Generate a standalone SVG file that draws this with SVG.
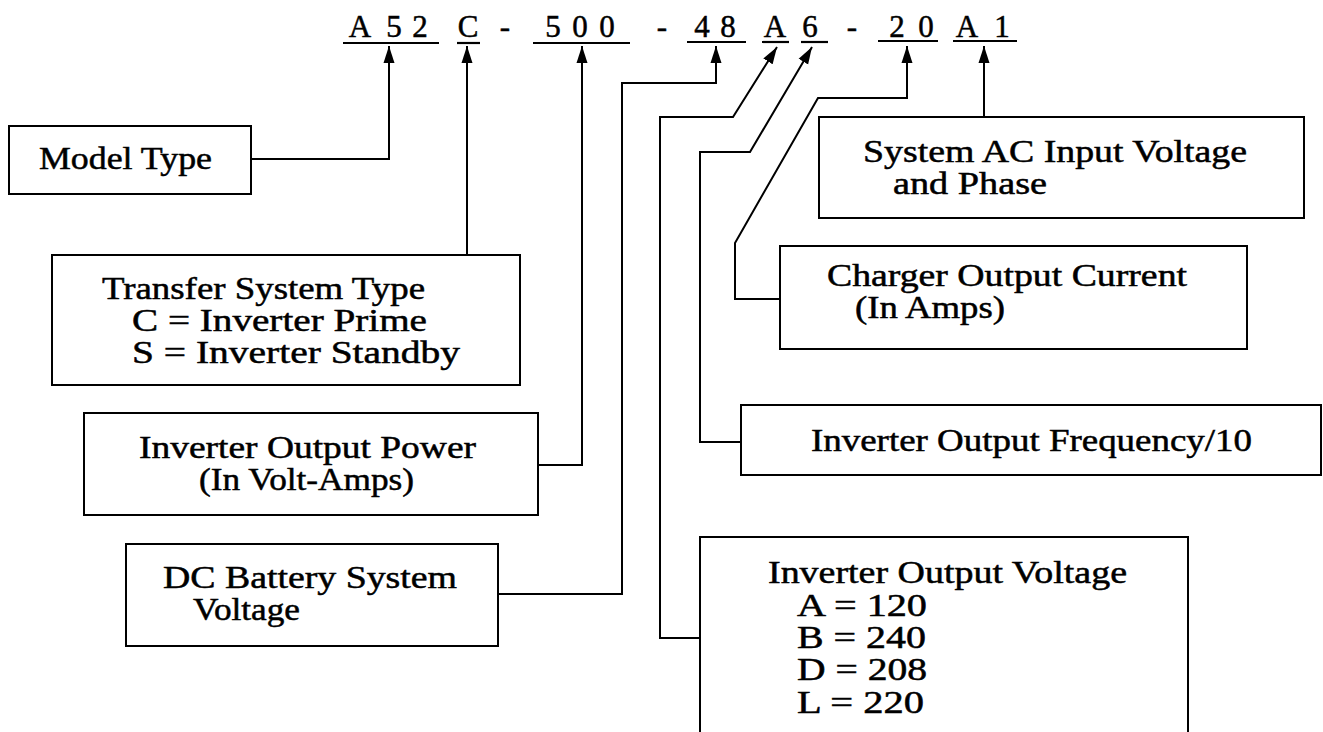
<svg xmlns="http://www.w3.org/2000/svg" width="1323" height="732" viewBox="0 0 1323 732">
<style>
.bg{fill:#fff}
.box{fill:#fff;stroke:#000;stroke-width:2}
.lbl{font-family:"Liberation Serif","Times New Roman",serif;font-size:31px;fill:#000;stroke:#000;stroke-width:0.5}
.code{font-family:"Liberation Serif","Times New Roman",serif;font-size:31px;fill:#000;stroke:#000;stroke-width:0.5;text-anchor:middle}
.ul{stroke:#000;stroke-width:2.2}
.conn{fill:none;stroke:#000;stroke-width:2;marker-end:url(#ah)}
</style>
<defs>
<marker id="ah" markerWidth="18" markerHeight="12" refX="17" refY="6" orient="auto" markerUnits="userSpaceOnUse">
<path d="M0,0.5 L17,6 L0,11.5 z" fill="#000"/>
</marker>
</defs>
<rect class="bg" x="0" y="0" width="1323" height="732"/>

<g id="code">
<text class="code" x="360" y="37">A</text>
<text class="code" x="394" y="37">5</text>
<text class="code" x="420" y="37">2</text>
<text class="code" x="468" y="37">C</text>
<text class="code" x="505" y="37">-</text>
<text class="code" x="553" y="37">5</text>
<text class="code" x="580" y="37">0</text>
<text class="code" x="607" y="37">0</text>
<text class="code" x="662" y="37">-</text>
<text class="code" x="702" y="37">4</text>
<text class="code" x="728" y="37">8</text>
<text class="code" x="775" y="37">A</text>
<text class="code" x="810" y="37">6</text>
<text class="code" x="852" y="37">-</text>
<text class="code" x="897" y="37">2</text>
<text class="code" x="926" y="37">0</text>
<text class="code" x="967" y="37">A</text>
<text class="code" x="1002" y="37">1</text>
<line class="ul" x1="343" y1="43" x2="439" y2="43"/>
<line class="ul" x1="457" y1="43" x2="480" y2="43"/>
<line class="ul" x1="533" y1="43" x2="630" y2="43"/>
<line class="ul" x1="687" y1="42" x2="746" y2="42"/>
<line class="ul" x1="762" y1="42" x2="789" y2="42"/>
<line class="ul" x1="801" y1="42" x2="828" y2="42"/>
<line class="ul" x1="878" y1="41" x2="938" y2="41"/>
<line class="ul" x1="953" y1="41" x2="1017" y2="41"/>
</g>

<g id="connectors">
<path class="conn" d="M251,159 H389 V46"/>
<path class="conn" d="M467,255 V46"/>
<path class="conn" d="M538,465 H582 V46"/>
<path class="conn" d="M498,594 H622 V83 H716 V46"/>
<path class="conn" d="M700,638 H660 V117 H733 L777,47"/>
<path class="conn" d="M741,442 H700 V152 H750 L812,47"/>
<path class="conn" d="M780,299 H735 V243 L818,98 H907 V46"/>
<path class="conn" d="M984,117 V46"/>
</g>

<g id="model-type">
<rect class="box" x="9" y="126" width="242" height="68"/>
<text class="lbl" x="39" y="169" textLength="173" lengthAdjust="spacingAndGlyphs">Model Type</text>
</g>

<g id="transfer-system-type">
<rect class="box" x="52" y="255" width="468" height="130"/>
<text class="lbl" x="102" y="299" textLength="323" lengthAdjust="spacingAndGlyphs">Transfer System Type</text>
<text class="lbl" x="132" y="331" textLength="295" lengthAdjust="spacingAndGlyphs">C = Inverter Prime</text>
<text class="lbl" x="132" y="363" textLength="328" lengthAdjust="spacingAndGlyphs">S = Inverter Standby</text>
</g>

<g id="inverter-output-power">
<rect class="box" x="84" y="413" width="454" height="102"/>
<text class="lbl" x="139" y="458" textLength="337" lengthAdjust="spacingAndGlyphs">Inverter Output Power</text>
<text class="lbl" x="199" y="490" textLength="215" lengthAdjust="spacingAndGlyphs">(In Volt-Amps)</text>
</g>

<g id="dc-battery-system-voltage">
<rect class="box" x="126" y="544" width="372" height="102"/>
<text class="lbl" x="163" y="588" textLength="294" lengthAdjust="spacingAndGlyphs">DC Battery System</text>
<text class="lbl" x="193" y="620" textLength="107" lengthAdjust="spacingAndGlyphs">Voltage</text>
</g>

<g id="system-ac-input">
<rect class="box" x="819" y="117" width="485" height="101"/>
<text class="lbl" x="863" y="162" textLength="384" lengthAdjust="spacingAndGlyphs">System AC Input Voltage</text>
<text class="lbl" x="893" y="194" textLength="154" lengthAdjust="spacingAndGlyphs">and Phase</text>
</g>

<g id="charger-output-current">
<rect class="box" x="780" y="246" width="467" height="103"/>
<text class="lbl" x="827" y="286" textLength="360" lengthAdjust="spacingAndGlyphs">Charger Output Current</text>
<text class="lbl" x="855" y="318" textLength="150" lengthAdjust="spacingAndGlyphs">(In Amps)</text>
</g>

<g id="inverter-output-frequency">
<rect class="box" x="741" y="405" width="580" height="70"/>
<text class="lbl" x="811" y="451" textLength="441" lengthAdjust="spacingAndGlyphs">Inverter Output Frequency/10</text>
</g>

<g id="inverter-output-voltage">
<rect class="box" x="700" y="537" width="488" height="210"/>
<text class="lbl" x="768" y="583" textLength="359" lengthAdjust="spacingAndGlyphs">Inverter Output Voltage</text>
<text class="lbl" x="797" y="616" textLength="130" lengthAdjust="spacingAndGlyphs">A = 120</text>
<text class="lbl" x="797" y="648" textLength="129" lengthAdjust="spacingAndGlyphs">B = 240</text>
<text class="lbl" x="797" y="680" textLength="130" lengthAdjust="spacingAndGlyphs">D = 208</text>
<text class="lbl" x="797" y="713" textLength="127" lengthAdjust="spacingAndGlyphs">L = 220</text>
</g>
</svg>
